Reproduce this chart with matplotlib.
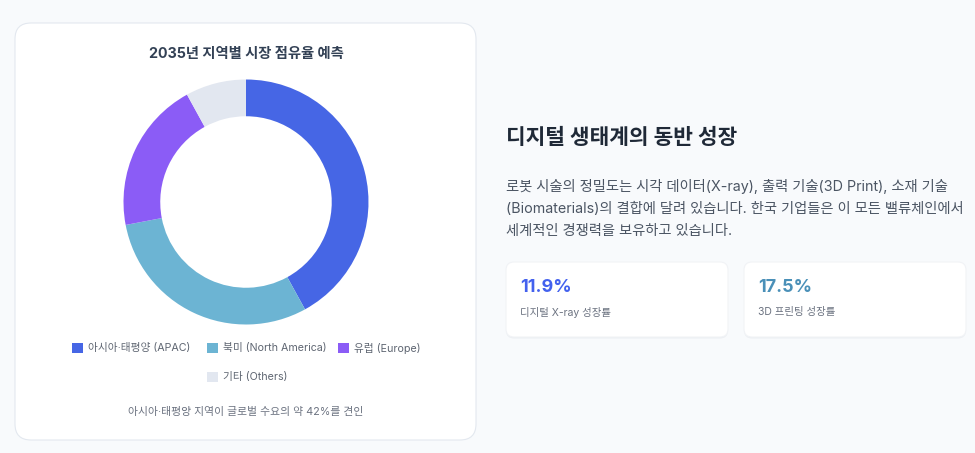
import matplotlib
matplotlib.use("Agg")
import matplotlib.pyplot as plt
from matplotlib.patches import FancyBboxPatch, Rectangle

plt.rcParams['font.family'] = ['Inter', 'Noto Sans CJK KR', 'DejaVu Sans']

# data
regions = ['아시아·태평양 (APAC)', '북미 (North America)', '유럽 (Europe)', '기타 (Others)']
shares = [42, 30, 20, 8]
colors = ['#4666e5', '#6cb4d3', '#8b5cf6', '#e2e7f0']

chart_title = '2035년 지역별 시장 점유율 예측'
footnote = '아시아·태평양 지역이 글로벌 수요의 약 42%를 견인'
heading = '디지털 생태계의 동반 성장'
paragraph = ['로봇 시술의 정밀도는 시각 데이터(X-ray), 출력 기술(3D Print), 소재 기술',
             '(Biomaterials)의 결합에 달려 있습니다. 한국 기업들은 이 모든 밸류체인에서',
             '세계적인 경쟁력을 보유하고 있습니다.']
stat_values = ['11.9%', '17.5%']
stat_labels = ['디지털 X-ray 성장률', '3D 프린팅 성장률']
stat_colors = ['#4361ee', '#4a90b8']

W, H = 975, 453
fig = plt.figure(figsize=(W / 100, H / 100), dpi=100)
fig.patch.set_facecolor('#f8fafc')

# pixel canvas
bg = fig.add_axes([0, 0, 1, 1])
bg.set_xlim(0, W)
bg.set_ylim(H, 0)
bg.axis('off')

def card(x, y, w, h, r, edge='#e5e7eb', shadow=False):
    if shadow:
        bg.add_patch(FancyBboxPatch((x, y + 1.5), w, h, boxstyle=f'round,pad=0,rounding_size={r}',
                                    fc='#eceff3', ec='none', zorder=1))
    bg.add_patch(FancyBboxPatch((x, y), w, h, boxstyle=f'round,pad=0,rounding_size={r}',
                                fc='white', ec=edge, lw=0.8, zorder=2))

# left chart card
card(15, 23, 461, 417, 16, edge='#e3e8ef')
bg.text(246, 54, chart_title, ha='center', va='center', fontsize=10.3, fontweight='bold',
        color='#334155', zorder=3)

# legend
leg_rows = [(72, 348), (207, 348), (338, 348), (207, 377)]
for (lx, ly), lab, c in zip(leg_rows, regions, colors):
    bg.add_patch(Rectangle((lx, ly - 5), 11, 10, fc=c, ec='none', zorder=3))
    bg.text(lx + 16, ly, lab, ha='left', va='center', fontsize=7.7, color='#5f6672', zorder=3)

bg.text(246, 412, footnote, ha='center', va='center', fontsize=7.8, color='#6b7280', zorder=3)

# right side text
bg.text(506, 138, heading, ha='left', va='center', fontsize=15.4, fontweight='bold',
        color='#1f2937', zorder=3)
for i, line in enumerate(paragraph):
    bg.text(506, 186 + i * 22.5, line, ha='left', va='center', fontsize=10.3,
            color='#4b5563', zorder=3)

for i, (v, lab, c) in enumerate(zip(stat_values, stat_labels, stat_colors)):
    x0 = 506 + i * 238
    card(x0, 262, 222, 75, 8, edge='#f1f3f6', shadow=True)
    bg.text(x0 + 14, 288, v, ha='left', va='center', fontsize=13, fontweight='bold',
            color=c, zorder=3)
    bg.text(x0 + 14, 312, lab, ha='left', va='center', fontsize=7.5, color='#6b7280', zorder=3)

# donut
R = 122.5
cx, cy = 246, 202
ax = fig.add_axes([(cx - R) / W, 1 - (cy + R) / H, 2 * R / W, 2 * R / H])
ax.pie(shares, colors=colors, startangle=90, counterclock=False, radius=1,
       wedgeprops=dict(width=0.30, edgecolor='none', linewidth=0))
ax.set_xlim(-1, 1)
ax.set_ylim(-1, 1)
ax.set_aspect('equal')
ax.axis('off')

fig.savefig('out.png', dpi=100, facecolor=fig.get_facecolor())
